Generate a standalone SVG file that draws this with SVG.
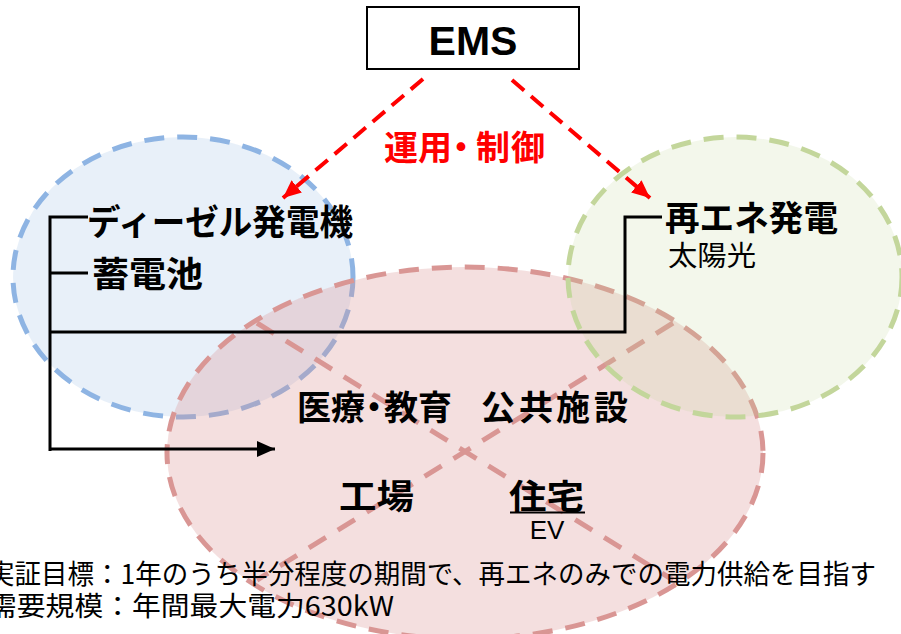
<svg xmlns="http://www.w3.org/2000/svg" width="901" height="634" viewBox="0 0 901 634">
<defs>
<style>
.jp{font-family:"Noto Sans CJK JP","Liberation Sans",sans-serif;}
.b{font-weight:700;fill:#000;}
.r{font-weight:400;fill:#000;}
.conn{fill:none;stroke:#000;stroke-width:3;}
.ctrl{fill:none;stroke:#FF0000;stroke-width:4;stroke-dasharray:16 9;}
.xline{fill:none;stroke:#D99694;stroke-width:5;stroke-dasharray:20 14;}
</style>
<marker id="redhead" markerUnits="userSpaceOnUse" markerWidth="18" markerHeight="16" refX="18" refY="8" orient="auto">
<path d="M0,0 L18,8 L0,16 z" fill="#FF0000"/>
</marker>
<marker id="blackhead" markerUnits="userSpaceOnUse" markerWidth="18" markerHeight="16" refX="18" refY="8" orient="auto">
<path d="M0,0 L18,8 L0,16 z" fill="#000"/>
</marker>
</defs>
<rect width="901" height="634" fill="#FFFFFF"/>

<g id="supply-area">
<ellipse cx="183" cy="277" rx="170" ry="140" fill="#8EB4E3" fill-opacity="0.2" stroke="#8EB4E3" stroke-width="5" stroke-dasharray="20 13"/>
</g>
<g id="demand-area">
<ellipse cx="465" cy="453" rx="298" ry="186" fill="#D99694" fill-opacity="0.3" stroke="#D99694" stroke-width="5" stroke-dasharray="20 13"/>
<line class="xline" x1="257" y1="323" x2="673" y2="580"/>
<line class="xline" x1="673" y1="323" x2="257" y2="580"/>
</g>
<g id="renewable-area">
<ellipse cx="735" cy="277" rx="167" ry="140" fill="#C3D69B" fill-opacity="0.2" stroke="#C3D69B" stroke-width="5" stroke-dasharray="20 13"/>
</g>

<g id="connectors">
<path class="conn" d="M50,215.5 V451 M48.5,217 H88 M50,273 H88 M50,332 H625 V217 H662"/>
<path class="conn" d="M50,449 H275" marker-end="url(#blackhead)"/>
<path class="ctrl" d="M423,79 L283,198" marker-end="url(#redhead)"/>
<path class="ctrl" d="M512,80 L650,198" marker-end="url(#redhead)"/>
</g>

<g id="ems">
<rect x="367" y="7" width="212" height="62" fill="#FFFFFF" stroke="#000" stroke-width="2"/>
<text x="473" y="55" text-anchor="middle" font-family="'Liberation Sans',Arial,sans-serif" font-weight="700" font-size="41" fill="#000">EMS</text>
</g>

<g id="control-label">
<text class="jp" x="384 418 444 476 511" y="160" font-size="34" font-weight="700" fill="#FF0000">運用・制御</text>
</g>

<g id="diesel">
<text class="jp b" x="87" y="235" font-size="35" textLength="266" lengthAdjust="spacingAndGlyphs">ディーゼル発電機</text>
</g>
<g id="battery">
<text class="jp b" x="92" y="287" font-size="35" textLength="111" lengthAdjust="spacingAndGlyphs">蓄電池</text>
</g>
<g id="renewable">
<text class="jp b" x="665" y="231" font-size="35" textLength="173" lengthAdjust="spacingAndGlyphs">再エネ発電</text>
<text class="jp r" x="668" y="266" font-size="28" textLength="88" lengthAdjust="spacingAndGlyphs">太陽光</text>
</g>
<g id="public">
<text class="jp b" x="297 331 357 384 418 450 481 519 556 594" y="420" font-size="34" xml:space="preserve">医療・教育 公共施設</text>
</g>
<g id="factory">
<text class="jp b" x="339" y="509" font-size="34" textLength="75" lengthAdjust="spacingAndGlyphs">工場</text>
</g>
<g id="housing">
<text class="jp b" x="509" y="509" font-size="34" textLength="75" lengthAdjust="spacingAndGlyphs">住宅</text>
<line x1="510" y1="512.5" x2="585" y2="512.5" stroke="#000" stroke-width="2"/>
<text x="547" y="539" text-anchor="middle" font-family="'Liberation Sans',Arial,sans-serif" font-size="26" fill="#000">EV</text>
</g>

<g id="notes">
<text class="jp r" x="-12" y="584" font-size="27" textLength="888" lengthAdjust="spacingAndGlyphs">実証目標：1年のうち半分程度の期間で、再エネのみでの電力供給を目指す</text>
<text class="jp r" x="-12" y="616" font-size="27" textLength="406" lengthAdjust="spacingAndGlyphs">需要規模：年間最大電力630kW</text>
</g>
</svg>
